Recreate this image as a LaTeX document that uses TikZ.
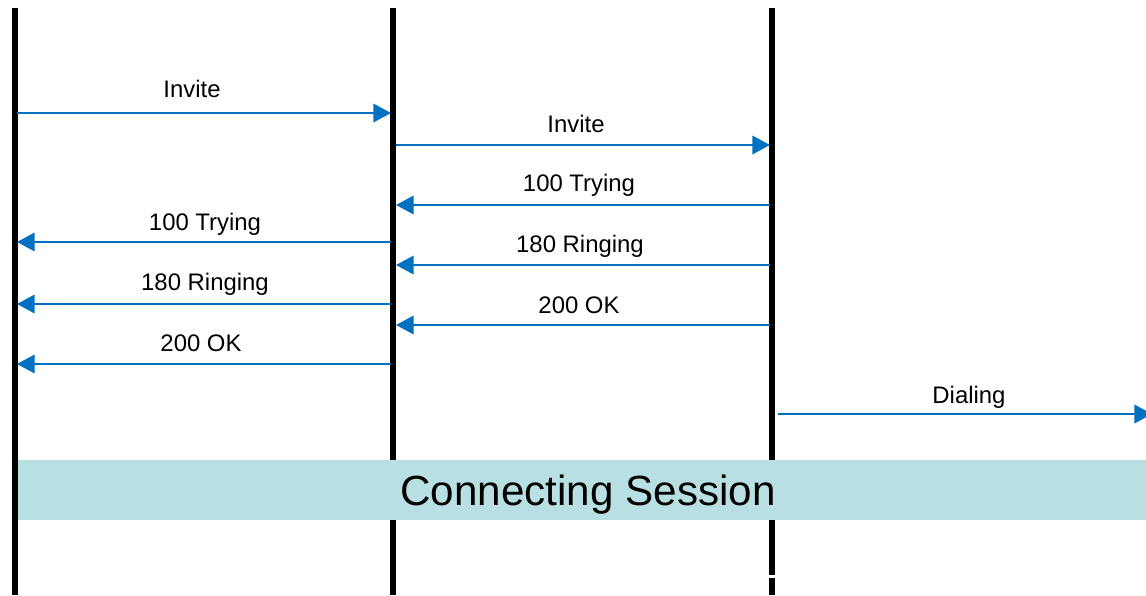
\documentclass[tikz,border=0pt]{standalone}
\usepackage{fontspec}
\setmainfont{Liberation Sans}
\usetikzlibrary{arrows.meta}
\definecolor{msgblue}{RGB}{0,112,192}
\definecolor{sessfill}{RGB}{184,224,226}

\begin{document}
\begin{tikzpicture}
		[%%%%%%%%%%%%%%%%%%%%%%%%%%%%%%
		x=0.025cm,y=-0.025cm,
		life/.style={line width=3.8pt,black},
		msg/.style={draw=msgblue,line width=1.8pt,-{Triangle[length=12.5pt,width=13pt]}},
		lbl/.style={font=\fontsize{17}{19}\selectfont,inner sep=0pt},
		]%%%%%%%%%%%%%%%%%%%%%%%%%%%%%%
		\useasboundingbox (0,0) rectangle (1146,595);
		
		% lifelines
		\foreach \n/\x in {ua/15,px/393,ub/772}{
			\coordinate (\n top) at (\x,8);
			\coordinate (\n bot) at (\x,595);
		}
		\coordinate (ubgap) at (772,575);
		\coordinate (ubgap2) at (772,578);
		\draw[life] (uatop) -- (uabot);
		\draw[life] (pxtop) -- (pxbot);
		\draw[life] (ubtop) -- (ubgap);
		\draw[life] (ubgap2) -- (ubbot);
		
		% session bar
		\node[fill=sessfill,minimum width=1128*0.025cm,minimum height=60*0.025cm,inner sep=0pt] (sess) at (582,490) {};
		\node[font=\fontsize{30}{34}\selectfont,inner sep=0pt] (sesstext) at (588,495) {Connecting Session};
		
		% message end points
		\foreach \n/\y in {1/113,2/145,3/205,4/242,5/265,6/304,7/325,8/364,9/414}{
			\coordinate (a\n) at (17,\y);
			\coordinate (pl\n) at (391,\y);
			\coordinate (pr\n) at (396,\y);
			\coordinate (bl\n) at (770,\y);
			\coordinate (br\n) at (778,\y);
		}
		\coordinate (far9) at (1152,414);
		
		\draw[msg] (a1) -- (pl1);
		\draw[msg] (pr2) -- (bl2);
		\draw[msg] (bl3) -- (pr3);
		\draw[msg] (pl4) -- (a4);
		\draw[msg] (bl5) -- (pr5);
		\draw[msg] (pl6) -- (a6);
		\draw[msg] (bl7) -- (pr7);
		\draw[msg] (pl8) -- (a8);
		\draw[msg] (br9) -- (far9);
		
		% labels
		\node[lbl] (l1) at (192,89) {Invite};
		\node[lbl] (l2) at (576,124) {Invite};
		\node[lbl] (l3) at (579,185) {100 Trying};
		\node[lbl] (l4) at (205,224) {100 Trying};
		\node[lbl] (l5) at (580,246) {180 Ringing};
		\node[lbl] (l6) at (205,284) {180 Ringing};
		\node[lbl] (l7) at (579,305) {200 OK};
		\node[lbl] (l8) at (201,343) {200 OK};
		\node[lbl] (l9) at (969,397) {Dialing};
		\end{tikzpicture}
\end{document}
